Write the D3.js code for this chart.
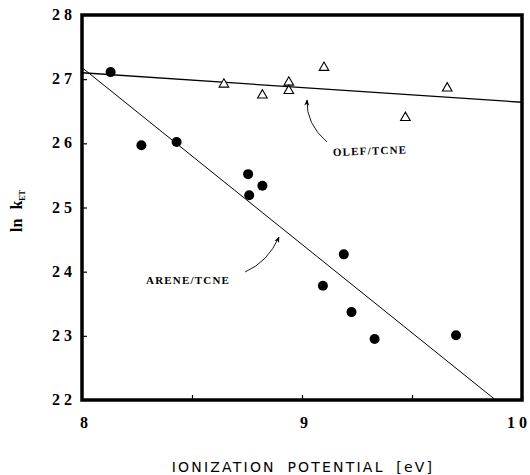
<!DOCTYPE html>
<meta charset="utf-8">
<style>
  body { margin: 0; background: white; }
  .tick-label { font-family: "Liberation Serif", serif; font-weight: bold; font-size: 16px; letter-spacing: 4px; }
  .note { font-family: "Liberation Serif", serif; font-weight: bold; font-size: 11px; letter-spacing: 1.2px; }
</style>
<body>
<script src="https://d3js.org/d3.v7.min.js"></script>
<script>

// ARENE/TCNE points (filled circles)
const areneIP  = [8.13, 8.27, 8.43, 8.755, 8.82, 8.76, 9.19, 9.095, 9.225, 9.33, 9.70];
const areneLnK = [27.11, 25.97, 26.02, 25.52, 25.34, 25.19, 24.27, 23.78, 23.37, 22.95, 23.01];

// OLEF/TCNE points (open triangles)
const olefIP  = [8.645, 8.82, 8.94, 8.94, 9.10, 9.47, 9.66];
const olefLnK = [26.92, 26.75, 26.95, 26.82, 27.18, 26.40, 26.86];

// fitted lines, endpoints
const areneFitX = [8.0, 9.88];
const areneFitY = [27.18, 22.0];
const olefFitX = [8.0, 10.0];
const olefFitY = [27.10, 26.64];

const xTicks = [8, 9, 10];
const xMinor = [8.5, 9, 9.5];
const yTicks = [22, 23, 24, 25, 26, 27, 28];

const W = 530, H = 475;
const pad = { left: 82, right: 522, top: 15, bottom: 400 };

const x = d3.scaleLinear().domain([8, 10]).range([pad.left, pad.right]);
const y = d3.scaleLinear().domain([22, 28]).range([pad.bottom, pad.top]);

const svg = d3.select("body").append("svg")
  .attr("width", W).attr("height", H)
  .style("background", "white");

const defs = svg.append("defs");
defs.append("clipPath").attr("id", "plotclip")
  .append("rect").attr("x", pad.left).attr("y", pad.top)
  .attr("width", pad.right - pad.left).attr("height", pad.bottom - pad.top);

// fit lines
const line = d3.line().x(d => x(d[0])).y(d => y(d[1]));
const fits = svg.append("g").attr("clip-path", "url(#plotclip)");
fits.append("path")
  .datum(d3.zip(areneFitX, areneFitY))
  .attr("d", line).attr("fill", "none").attr("stroke", "#000").attr("stroke-width", 1);
fits.append("path")
  .datum(d3.zip(olefFitX, olefFitY))
  .attr("d", line).attr("fill", "none").attr("stroke", "#000").attr("stroke-width", 1.3);

// left axis ticks (inside)
svg.append("g")
  .attr("transform", `translate(${pad.left},0)`)
  .call(d3.axisRight(y).tickValues(yTicks).tickSize(5).tickFormat(""))
  .call(g => g.select(".domain").remove())
  .call(g => g.selectAll("line").attr("stroke-width", 1.2));

// bottom ticks (inside)
svg.append("g")
  .attr("transform", `translate(0,${pad.bottom})`)
  .call(d3.axisTop(x).tickValues(xMinor).tickSize(5).tickFormat(""))
  .call(g => g.select(".domain").remove())
  .call(g => g.selectAll("line").attr("stroke-width", 1.2));

// frame
svg.append("rect")
  .attr("x", pad.left).attr("y", pad.top)
  .attr("width", pad.right - pad.left).attr("height", pad.bottom - pad.top)
  .attr("fill", "none").attr("stroke", "#000").attr("stroke-width", 3.5);

// tick labels
svg.append("g").selectAll("text")
  .data(yTicks).join("text")
  .attr("class", "tick-label")
  .attr("x", 76).attr("y", d => y(d) + 5)
  .attr("text-anchor", "end")
  .text(d => d);

svg.append("g").selectAll("text")
  .data(xTicks).join("text")
  .attr("class", "tick-label")
  .attr("x", d => x(d) + (d === 10 ? -3 : 4)).attr("y", 428)
  .attr("text-anchor", "middle")
  .text(d => d);

// points
svg.append("g").selectAll("circle")
  .data(d3.zip(areneIP, areneLnK)).join("circle")
  .attr("cx", d => x(d[0])).attr("cy", d => y(d[1]))
  .attr("r", 5).attr("fill", "#000");

const tri = d3.symbol().type(d3.symbolTriangle).size(40);
svg.append("g").selectAll("path")
  .data(d3.zip(olefIP, olefLnK)).join("path")
  .attr("transform", d => `translate(${x(d[0])},${y(d[1])})`)
  .attr("d", tri)
  .attr("fill", "white").attr("stroke", "#000").attr("stroke-width", 1.1);

// annotations
defs.append("marker")
  .attr("id", "arr").attr("viewBox", "0 0 10 10")
  .attr("refX", 9).attr("refY", 5)
  .attr("markerWidth", 7).attr("markerHeight", 7)
  .attr("orient", "auto")
  .append("path").attr("d", "M0,1 L10,5 L0,9 L3,5 Z").attr("fill", "#000");

svg.append("path")
  .attr("d", "M245,272 Q268,262 279,237")
  .attr("fill", "none").attr("stroke", "#000").attr("stroke-width", 0.9)
  .attr("marker-end", "url(#arr)");
svg.append("path")
  .attr("d", "M327,142 Q306,124 307,100")
  .attr("fill", "none").attr("stroke", "#000").attr("stroke-width", 0.9)
  .attr("marker-end", "url(#arr)");

svg.append("text").attr("class", "note")
  .attr("x", 146).attr("y", 284).text("ARENE/TCNE");
svg.append("text").attr("class", "note")
  .attr("transform", "translate(333,156) rotate(-2)").text("OLEF/TCNE");

// axis titles
svg.append("text")
  .attr("x", 303).attr("y", 472)
  .attr("text-anchor", "middle")
  .style("font-family", "'DejaVu Sans', sans-serif")
  .style("font-size", "14px")
  .style("letter-spacing", "2.2px")
  .style("word-spacing", "5px")
  .text("IONIZATION POTENTIAL [eV]");

const ylab = svg.append("text")
  .attr("transform", "translate(22,211) rotate(-90)")
  .attr("text-anchor", "middle")
  .style("font-family", "'Liberation Serif', serif")
  .style("font-weight", "bold")
  .style("font-size", "16px")
  .style("word-spacing", "5px");
ylab.append("tspan").text("ln k");
ylab.append("tspan").attr("dy", 3).style("font-size", "8px").text("ET");

</script>
</body>
